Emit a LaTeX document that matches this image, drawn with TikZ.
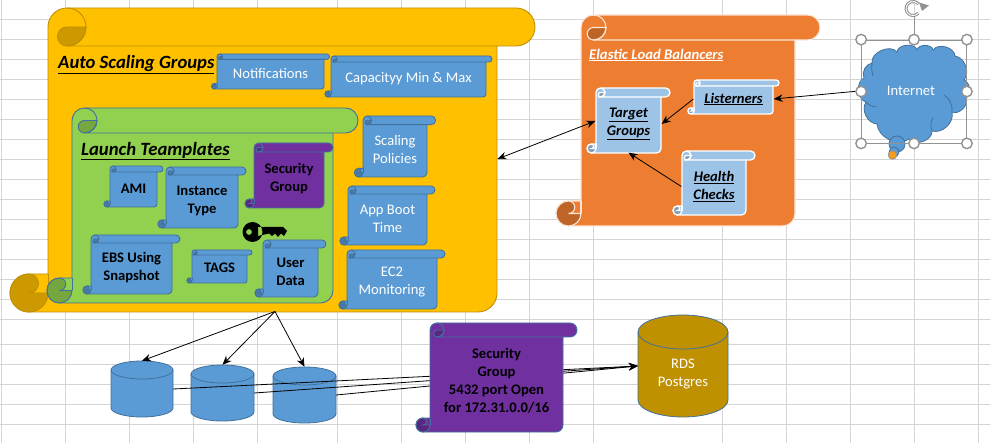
\documentclass[tikz,border=0pt]{standalone}
\usepackage{fontspec}
\setmainfont{Carlito}
\usetikzlibrary{arrows.meta,calc}
\definecolor{gridgrey}{HTML}{D4D4D4}
\definecolor{asgyellow}{HTML}{FFC000}
\definecolor{asgedge}{HTML}{BF9000}
\definecolor{asgshade}{HTML}{CC9A00}
\definecolor{ltgreen}{HTML}{92D050}
\definecolor{ltshade}{HTML}{75A640}
\definecolor{boxblue}{HTML}{5B9BD5}
\definecolor{boxedge}{HTML}{41719C}
\definecolor{boxshade}{HTML}{497CAA}
\definecolor{sgpurple}{HTML}{7030A0}
\definecolor{sgshade}{HTML}{5A2680}
\definecolor{elborange}{HTML}{ED7D31}
\definecolor{elbedge}{HTML}{FBE5D6}
\definecolor{elbshade}{HTML}{BE6427}
\definecolor{paleblue}{HTML}{9DC3E6}
\definecolor{paleshade}{HTML}{7E9CB8}
\definecolor{rdsgold}{HTML}{BF9000}
\definecolor{handlegrey}{HTML}{929292}
\definecolor{dotorange}{HTML}{F59E1E}
\tikzset{
  >={Stealth[length=9pt,width=7.5pt]},
  scrolltext/.style={yshift=1pt},
  asgbox/.style={fill=asgyellow,draw=asgedge,line width=0.9pt},
  ltbox/.style={fill=ltgreen,draw=boxedge,line width=0.9pt},
  % text inside the scrolls
  wtext/.style={text=white,font=\fontsize{14.6}{18}\selectfont,align=center},
  btext/.style={text=black,font=\fontsize{14.6}{18}\selectfont\bfseries,align=center},
  itext/.style={text=black,font=\fontsize{14.6}{18}\selectfont\bfseries\itshape,align=center},
  bluebox/.style={fill=boxblue,draw=boxedge,line width=0.9pt,wtext},
  blueboxb/.style={fill=boxblue,draw=boxedge,line width=0.9pt,btext},
  sgbox/.style={fill=sgpurple,draw=boxedge,line width=0.9pt,btext},
  elbbox/.style={fill=elborange,draw=elbedge,line width=1.1pt},
  palebox/.style={fill=paleblue,draw=white,line width=1.3pt,itext},
  heading/.style={font=\fontsize{18.7}{22}\selectfont\bfseries\itshape,inner sep=0pt,text=black},
  drum/.style={fill=boxblue,draw=boxedge,line width=0.8pt},
  rdsdrum/.style={fill=rdsgold,draw=boxedge,line width=0.8pt},
  link/.style={draw=black,line width=0.8pt},
  puff/.style={fill=boxblue,draw=boxedge,line width=0.8pt},
  selframe/.style={draw=handlegrey,line width=0.8pt,inner sep=0pt},
  handle/.style={circle,draw=handlegrey,fill=white,line width=1.4pt,inner sep=0pt,minimum size=10.5pt},
}
% style, shade colour, name (xl,ytop,xr,ybottom,r), text
\def\scrollbox#1#2#3(#4,#5,#6,#7,#8)#9{%
  \draw[#1] (#4,#5+#8) arc (180:270:#8) -- (#6+#8,#5) arc (-90:90:#8) -- (#6,#5+2*#8)
    -- (#6,#7-#8) arc (0:90:#8) -- (#4-#8,#7) arc (90:270:#8) -- (#4,#7-2*#8) -- cycle;
  \draw[#1,fill=#2] (#4+2*#8,#5+#8) arc (0:90:#8) arc (90:270:#8/2) -- cycle;
  \draw[#1,fill=none] (#4+#8,#5) arc (-90:90:#8) -- (#6,#5+2*#8);
  \draw[#1,fill=#2] (#4-#8,#7-2*#8) arc (270:90:#8) arc (90:0:#8) -- (#4-#8,#7-#8)
    arc (90:-90:#8/2) -- cycle;
  \draw[#1,fill=none] (#4,#7-2*#8) -- (#4,#7-#8);
  \node[#1,draw=none,fill=none,inner sep=0pt,minimum width={(#6-#4)*1pt},
    minimum height={(#7-#5-2*#8)*1pt},scrolltext] (#3) at ({(#4+#6)/2},{(#5+2*#8+#7)/2}) {#9};
}
% style, name (xl,ytop,xr,ybottom,ry)
\def\drumbox#1#2(#3,#4,#5,#6,#7){%
  \draw[#1] (#3,#4+#7) arc (180:360:{(#5-#3)/2} and #7) -- (#5,#6-#7)
    arc (0:180:{(#5-#3)/2} and #7) -- cycle;
  \draw[#1,fill=none] (#3,#4+#7) arc (180:0:{(#5-#3)/2} and #7);
  \node[inner sep=0pt,minimum width={(#5-#3)*1pt},minimum height={(#6-#4)*1pt}] (#2)
    at ({(#3+#5)/2},{(#4+#6)/2}) {};
}
\begin{document}
\begin{tikzpicture}[x=1pt,y=-1pt]
  \useasboundingbox (0,0) rectangle (990,443);
  \fill[white] (0,0) rectangle (990,443);
  % sheet
  \foreach \gx in {1,65,129,193,257,337,401,465,529,593,722,786,850,914,978}
    \draw[gridgrey,line width=0.9pt] (\gx,0) -- (\gx,443);
  \foreach \gy in {19,39,...,319,344,364,384,404,424}
    \draw[gridgrey,line width=0.9pt] (0,\gy) -- (990,\gy);

  \scrollbox{asgbox}{asgshade}{asg}(48,8,497,312,19){}
  \node[heading,anchor=west] (asglabel) at (58,65) {\underline{Auto Scaling Groups}};
  \scrollbox{bluebox}{boxshade}{notify}(217,54,324,89,2.7){Notifications}
  \scrollbox{bluebox}{boxshade}{capacity}(331,56,486,97,3){Capacityy Min \& Max}
  \scrollbox{bluebox}{boxshade}{scaling}(363,116,427,177,4.3){Scaling\\Policies}
  \scrollbox{bluebox}{boxshade}{boot}(348,186,427,245,4){App Boot\\Time}
  \scrollbox{bluebox}{boxshade}{monitor}(347,250,437,309,4){EC2\\Monitoring}

  \scrollbox{ltbox}{ltshade}{lt}(72,108,333,303,12.5){}
  \node[heading,anchor=west] (ltlabel) at (81,151) {\underline{Launch Teamplates}};
  \scrollbox{sgbox}{sgshade}{ltsg}(254,143,324,208,4.5){Security\\Group}
  \scrollbox{blueboxb}{boxshade}{ami}(110,166,157,207,3){AMI}
  \scrollbox{blueboxb}{boxshade}{itype}(166,167,238,228,4){Instance\\Type}
  \scrollbox{blueboxb}{boxshade}{ebs}(91,235,172,294,4){EBS Using\\Snapshot}
  \scrollbox{blueboxb}{boxshade}{tags}(192,250,247,283,2.5){TAGS}
  \scrollbox{blueboxb}{boxshade}{udata}(263,240,318,297,4){User\\Data}
  % key
  \fill[black,even odd rule] (252.5,232) circle (10) (249,232) circle (3)
    (258,227) -- (283,227) -- (287,231) -- (284,236) -- (281,233.5) -- (278,237)
    -- (275,233.5) -- (272,236) -- (269,233.5) -- (258,236) -- cycle;

  \scrollbox{elbbox}{elbshade}{elb}(581,15,795,226,12.5){}
  \node[heading,text=white,font=\fontsize{14.7}{18}\selectfont\bfseries\itshape,anchor=west]
    (elblabel) at (589,55) {\underline{Elastic Load Balancers}};
  \scrollbox{palebox}{paleshade}{target}(596,88,661,153,4.5){\underline{Target}\\\underline{Groups}}
  \scrollbox{palebox}{paleshade}{listen}(694,80,773,114,3){\underline{Listerners}}
  \scrollbox{palebox}{paleshade}{health}(682,151,746,215,4.5){\underline{Health}\\\underline{Checks}}

  \drumbox{drum}{drum1}(111,361,173,417,9)
  \drumbox{drum}{drum2}(191,365,254,421,9)
  \drumbox{drum}{drum3}(273,367,336,423,9)
  \drumbox{rdsdrum}{rds}(638,315,728,417,17)
  \node[text=white,font=\fontsize{14.6}{18}\selectfont,align=center,inner sep=0pt] (rdstext) at (683,374.5) {RDS\\Postgres};

  \draw[link,->] (drum1.east) -- (rds.west);
  \draw[link,->] (drum2.east) -- (rds.west);
  \draw[link,->] (drum3.east) -- (rds.west);
  \begin{scope}[scrolltext/.style={yshift=3.5pt}]
  \scrollbox{sgbox}{sgshade}{dbsg}(430,323,563,432,7){Security\\Group\\5432 port Open\\for 172.31.0.0/16}
  \end{scope}

  \foreach \dn in {drum1,drum2,drum3}
    \draw[link,->] ([xshift=2.5pt]asg.south) -- (\dn.north);
  \draw[link,<->] ([yshift=19pt]asg.east) -- ([yshift=3pt]target.west);
  \draw[link,->] (listen.west) -- (target.east);
  \draw[link,->] (health.west) -- (target.south);

  % selected cloud
  \draw[puff] (872,63) to[bend left=75] (897,52) to[bend left=80] (917,50)
    to[bend left=80] (933,50) to[bend left=70] (955,56) to[bend left=60] (964,80)
    to[bend left=60] (966,98) to[bend left=70] (952,112) to[bend left=60] (932,131)
    to[bend left=75] (909,139) to[bend left=60] (877,124) to[bend left=60] (866,102)
    to[bend left=70] (864,78) to[bend left=50] cycle;
  \draw[puff,fill=none] (944,95) to[bend left=30] (952,112);
  \draw[puff,fill=none] (872,63) to[bend right=10] (873,76);
  \draw[puff,fill=none] (866,102) to[bend right=20] (876,107);
  \draw[puff,fill=none] (932,131) to[bend left=25] (933,118);
  \node[circle,puff,minimum size=16pt,inner sep=0pt] (bub1) at (897,144) {};
  \node[circle,puff,minimum size=10pt,inner sep=0pt] (bub2) at (894,152) {};
  \node[text=white,font=\fontsize{14.6}{18}\selectfont,inner sep=0pt,minimum width=104pt,minimum height=100pt]
    (internet) at (911,91) {Internet};
  \draw[link,->] (internet.west) -- (listen.east);
  \node[selframe,minimum width=105pt,minimum height=103pt] (frame) at (914,91.5) {};
  \coordinate (rottop) at (914,16);
  \draw[handlegrey,line width=0.8pt] (frame.north) -- (rottop);
  \draw[handlegrey,line width=3pt] (918.4,13) arc (40:320:7);
  \draw[white,line width=0.9pt] (918.4,13) arc (40:315:7);
  \fill[handlegrey] (919,2.5) -- (929,5.5) -- (922,11) -- cycle;
  \foreach \hn [count=\hi] in {north west,north,north east,west,east,south west,south,south east}
    \node[handle] (h\hi) at (frame.\hn) {};
  \node[circle,fill=dotorange,draw=handlegrey,line width=0.8pt,minimum size=8.5pt,inner sep=0pt] (turn) at (892.5,155) {};
\end{tikzpicture}
\end{document}
